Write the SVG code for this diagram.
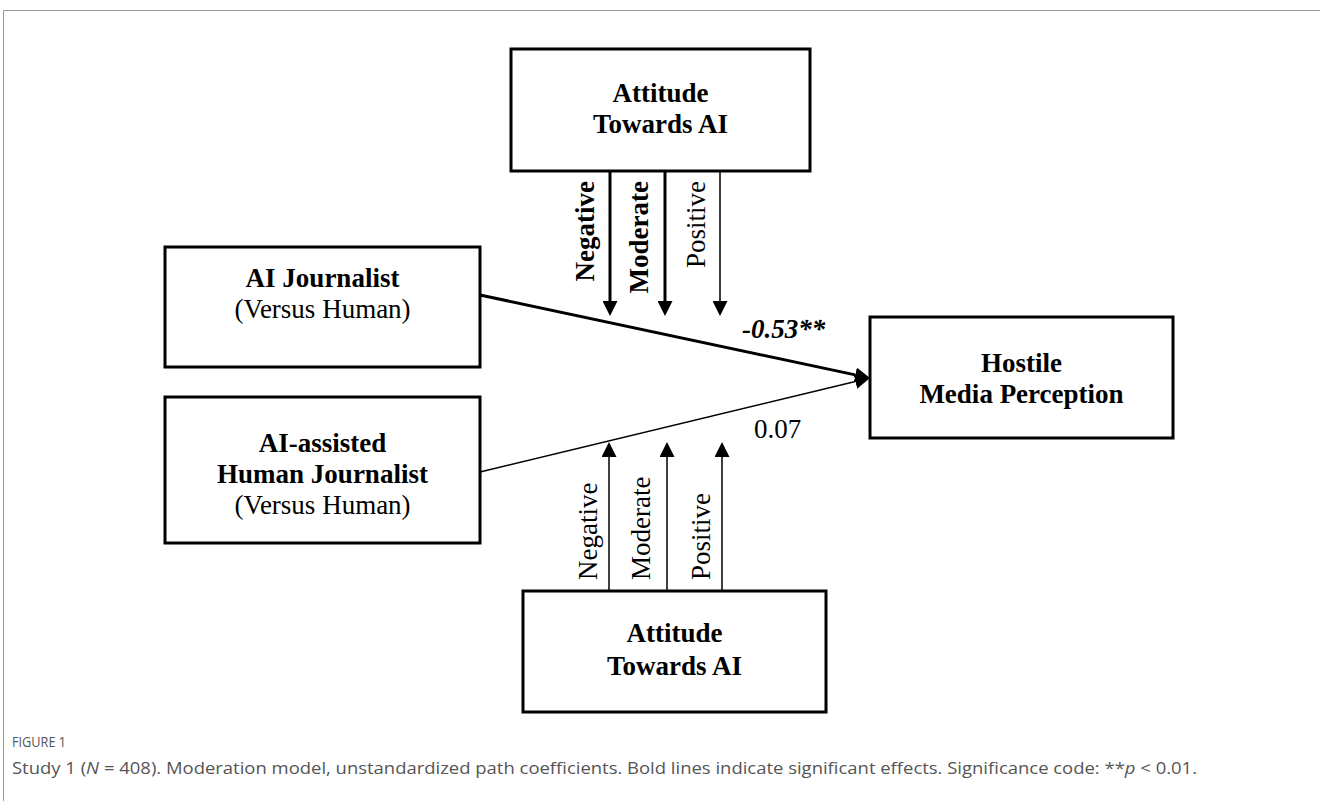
<svg xmlns="http://www.w3.org/2000/svg" width="1320" height="801" viewBox="0 0 1320 801">
<style>
.box{fill:#fff;stroke:#000;stroke-width:3}
.t{font-family:"Liberation Serif","Times New Roman",serif;font-size:27px;fill:#000;text-anchor:middle}
.b{font-weight:bold}
.lab{font-family:"Liberation Serif","Times New Roman",serif;font-size:27px;fill:#000}
.thick{stroke:#000;stroke-width:3;fill:none}
.thin{stroke:#000;stroke-width:1.5;fill:none}
.cap{font-family:"Open Sans","Liberation Sans",sans-serif;fill:#555}
</style>
<defs>
<marker id="ah" markerUnits="userSpaceOnUse" markerWidth="15" markerHeight="15" refX="0" refY="7.5" orient="auto" viewBox="0 0 15 15">
<path d="M0,0 L15,7.5 L0,15 z" fill="#000"/>
</marker>
</defs>
<rect width="1320" height="801" fill="#fff"/>
<path d="M3.5,801 V10.5 H1320" fill="none" stroke="#999" stroke-width="1"/>

<g id="connectors">
<line class="thick" x1="480" y1="295" x2="855.3" y2="374.9" marker-end="url(#ah)"/>
<line class="thin" x1="480" y1="472" x2="855.4" y2="381.5" marker-end="url(#ah)"/>
<line class="thick" x1="610" y1="171" x2="610" y2="301" marker-end="url(#ah)"/>
<line class="thick" x1="665" y1="171" x2="665" y2="301" marker-end="url(#ah)"/>
<line class="thin" x1="720" y1="171" x2="720" y2="301" marker-end="url(#ah)"/>
<line class="thin" x1="609" y1="591" x2="609" y2="457" marker-end="url(#ah)"/>
<line class="thin" x1="667" y1="591" x2="667" y2="457" marker-end="url(#ah)"/>
<line class="thin" x1="722" y1="591" x2="722" y2="457" marker-end="url(#ah)"/>
<text class="lab b" x="0" y="0" text-anchor="end" transform="translate(594,181) rotate(-90)">Negative</text>
<text class="lab b" x="0" y="0" text-anchor="end" transform="translate(648,181) rotate(-90)">Moderate</text>
<text class="lab" x="0" y="0" text-anchor="end" transform="translate(705,181) rotate(-90)">Positive</text>
<text class="lab" x="0" y="0" text-anchor="start" transform="translate(597,580) rotate(-90)">Negative</text>
<text class="lab" x="0" y="0" text-anchor="start" transform="translate(650,580) rotate(-90)">Moderate</text>
<text class="lab" x="0" y="0" text-anchor="start" transform="translate(710,580) rotate(-90)">Positive</text>
<text class="lab b" x="742" y="338" font-size="28" font-style="italic">-0.53**</text>
<text class="lab" x="754" y="438" font-size="28">0.07</text>
</g>

<g id="node-attitude-top">
<rect class="box" x="511" y="49" width="299" height="122"/>
<text class="t b" x="660.5" y="102">Attitude</text>
<text class="t b" x="660.5" y="133">Towards AI</text>
</g>

<g id="node-ai-journalist">
<rect class="box" x="165" y="247" width="315" height="120"/>
<text class="t b" x="322.5" y="287">AI Journalist</text>
<text class="t" x="322.5" y="318">(Versus Human)</text>
</g>

<g id="node-ai-assisted">
<rect class="box" x="165" y="397" width="315" height="146"/>
<text class="t b" x="322.5" y="452">AI-assisted</text>
<text class="t b" x="322.5" y="483">Human Journalist</text>
<text class="t" x="322.5" y="514">(Versus Human)</text>
</g>

<g id="node-hostile">
<rect class="box" x="870" y="317" width="303" height="121"/>
<text class="t b" x="1021.5" y="372">Hostile</text>
<text class="t b" x="1021.5" y="403">Media Perception</text>
</g>

<g id="node-attitude-bottom">
<rect class="box" x="523" y="591" width="303" height="121"/>
<text class="t b" x="674.5" y="642">Attitude</text>
<text class="t b" x="674.5" y="675">Towards AI</text>
</g>

<g id="caption">
<text class="cap" x="12" y="747" font-size="15" fill="#666" textLength="54" lengthAdjust="spacingAndGlyphs">FIGURE 1</text>
<text class="cap" x="12" y="774" font-size="16" textLength="1185" lengthAdjust="spacingAndGlyphs">Study 1 (<tspan font-style="italic">N</tspan> = 408). Moderation model, unstandardized path coefficients. Bold lines indicate significant effects. Significance code: **<tspan font-style="italic">p</tspan> &lt; 0.01.</text>
</g>
</svg>
